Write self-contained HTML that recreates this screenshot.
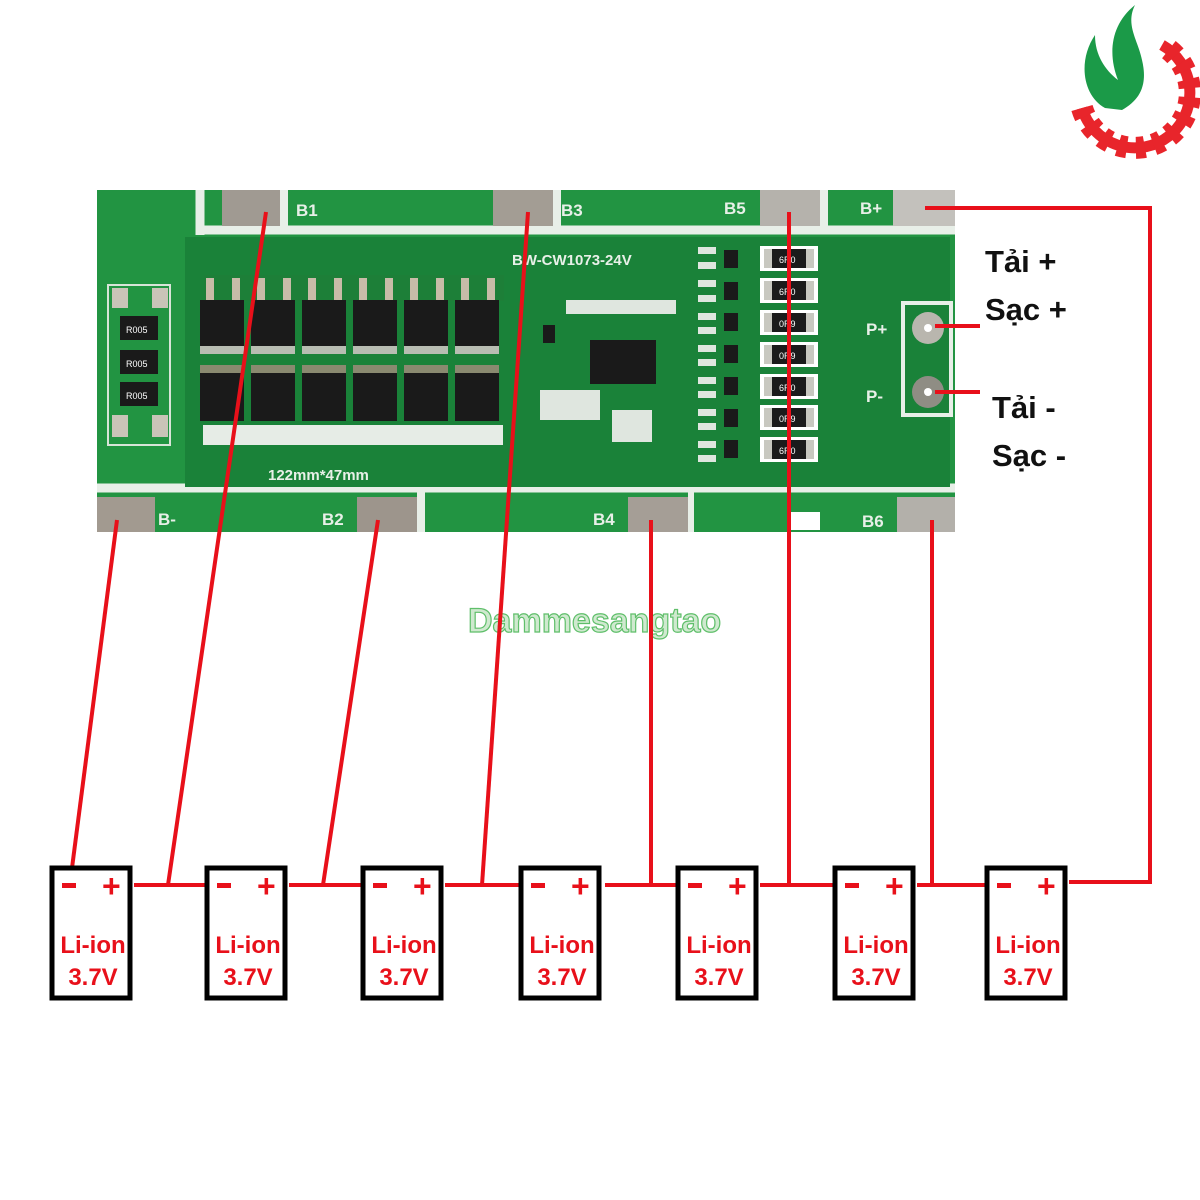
<!DOCTYPE html>
<html><head><meta charset="utf-8"><style>
html,body{margin:0;padding:0;background:#fff;width:1200px;height:1200px;overflow:hidden}
svg text{font-family:"Liberation Sans","DejaVu Sans",sans-serif}
</style></head><body>
<svg width="1200" height="1200" viewBox="0 0 1200 1200" xmlns="http://www.w3.org/2000/svg">
<defs>
<g id="mos"><rect x="0" y="0" width="44" height="46" fill="#1a1a1a"/><rect x="0" y="46" width="44" height="8" fill="#b8bdb2"/></g>
<g id="mosb"><rect x="0" y="0" width="44" height="8" fill="#8a8a70"/><rect x="0" y="8" width="44" height="48" fill="#1a1a1a"/></g>
<g id="res"><rect x="0" y="0" width="58" height="25" fill="#fff"/><rect x="4" y="3" width="50" height="19" fill="#c8c8c0"/><rect x="12" y="3" width="34" height="19" fill="#1b1b1b"/></g>
<g id="bat"><rect x="2" y="2" width="78" height="130" fill="#fff" stroke="#000" stroke-width="5"/></g>
</defs>
<!-- board -->
<rect x="97" y="190" width="858" height="342" fill="#229442"/>
<path d="M200 230 H955 M200 190 V235 M97 488 H955" stroke="#e8efe8" stroke-width="9" fill="none"/>
<rect x="185" y="237" width="765" height="250" fill="#1a8239"/>
<!-- top pads -->
<rect x="222" y="190" width="58" height="36" fill="#a09a92"/>
<rect x="493" y="190" width="60" height="36" fill="#a39d94"/>
<rect x="760" y="190" width="60" height="36" fill="#b5b2ac"/>
<rect x="893" y="190" width="62" height="36" fill="#c3c1bc"/>
<rect x="280" y="190" width="8" height="40" fill="#e8efe8"/>
<rect x="553" y="190" width="8" height="40" fill="#e8efe8"/>
<rect x="820" y="190" width="8" height="40" fill="#e8efe8"/>
<!-- bottom pads -->
<rect x="97" y="497" width="58" height="35" fill="#a29a90"/>
<rect x="357" y="497" width="60" height="35" fill="#9d958c"/>
<rect x="628" y="497" width="60" height="35" fill="#a59e96"/>
<rect x="897" y="497" width="58" height="35" fill="#b3b0aa"/>
<rect x="417" y="492" width="8" height="40" fill="#e8efe8"/>
<rect x="688" y="492" width="6" height="40" fill="#e8efe8"/>
<g font-weight="bold" font-size="17" fill="#e8f0e8">
<text x="296" y="216">B1</text>
<text x="561" y="216">B3</text>
<text x="724" y="214">B5</text>
<text x="860" y="214">B+</text>
<text x="158" y="525">B-</text>
<text x="322" y="525">B2</text>
<text x="593" y="525">B4</text>
<text x="862" y="527">B6</text>
<text x="512" y="265" font-size="15">BW-CW1073-24V</text>
<text x="268" y="480" font-size="15">122mm*47mm</text>
<text x="866" y="335">P+</text>
<text x="866" y="402">P-</text>
</g>
<!-- left shunts -->
<rect x="108" y="285" width="62" height="160" fill="none" stroke="#d8e4d8" stroke-width="2"/>
<g fill="#c9c4b8"><rect x="112" y="288" width="16" height="20"/><rect x="152" y="288" width="16" height="20"/><rect x="112" y="415" width="16" height="22"/><rect x="152" y="415" width="16" height="22"/></g>
<g fill="#1a1a1a"><rect x="120" y="316" width="38" height="24"/><rect x="120" y="350" width="38" height="24"/><rect x="120" y="382" width="38" height="24"/></g>
<g fill="#fff" font-size="9"><text x="126" y="333">R005</text><text x="126" y="367">R005</text><text x="126" y="399">R005</text></g>
<!-- mosfets -->
<rect x="204" y="275" width="300" height="26" fill="#1d7f38"/>
<use href="#mos" x="200" y="300"/><use href="#mos" x="251" y="300"/><use href="#mos" x="302" y="300"/><use href="#mos" x="353" y="300"/><use href="#mos" x="404" y="300"/><use href="#mos" x="455" y="300"/>
<use href="#mosb" x="200" y="365"/><use href="#mosb" x="251" y="365"/><use href="#mosb" x="302" y="365"/><use href="#mosb" x="353" y="365"/><use href="#mosb" x="404" y="365"/><use href="#mosb" x="455" y="365"/>
<g fill="#c8bca8"><rect x="206" y="278" width="8" height="22"/><rect x="232" y="278" width="8" height="22"/><rect x="257" y="278" width="8" height="22"/><rect x="283" y="278" width="8" height="22"/><rect x="308" y="278" width="8" height="22"/><rect x="334" y="278" width="8" height="22"/><rect x="359" y="278" width="8" height="22"/><rect x="385" y="278" width="8" height="22"/><rect x="410" y="278" width="8" height="22"/><rect x="436" y="278" width="8" height="22"/><rect x="461" y="278" width="8" height="22"/><rect x="487" y="278" width="8" height="22"/></g>
<g fill="#e6ece6"><rect x="203" y="425" width="300" height="20"/></g>
<!-- right area components -->
<use href="#res" x="760" y="246"/><use href="#res" x="760" y="278"/><use href="#res" x="760" y="310"/><use href="#res" x="760" y="342"/><use href="#res" x="760" y="374"/><use href="#res" x="760" y="405"/><use href="#res" x="760" y="437"/>
<g fill="#fff" font-size="9"><text x="779" y="263">6R0</text><text x="779" y="295">6R0</text><text x="779" y="327">0R9</text><text x="779" y="359">0R9</text><text x="779" y="391">6R0</text><text x="779" y="422">0R9</text><text x="779" y="454">6R0</text></g>
<g fill="#1a1a1a"><rect x="724" y="250" width="14" height="18"/><rect x="724" y="282" width="14" height="18"/><rect x="724" y="313" width="14" height="18"/><rect x="724" y="345" width="14" height="18"/><rect x="724" y="377" width="14" height="18"/><rect x="724" y="409" width="14" height="18"/><rect x="724" y="440" width="14" height="18"/></g>
<g fill="#dfe6df"><rect x="698" y="247" width="18" height="7"/><rect x="698" y="262" width="18" height="7"/><rect x="698" y="280" width="18" height="7"/><rect x="698" y="295" width="18" height="7"/><rect x="698" y="313" width="18" height="7"/><rect x="698" y="327" width="18" height="7"/><rect x="698" y="345" width="18" height="7"/><rect x="698" y="359" width="18" height="7"/><rect x="698" y="377" width="18" height="7"/><rect x="698" y="391" width="18" height="7"/><rect x="698" y="409" width="18" height="7"/><rect x="698" y="423" width="18" height="7"/><rect x="698" y="441" width="18" height="7"/><rect x="698" y="455" width="18" height="7"/></g>
<rect x="590" y="340" width="66" height="44" fill="#1a1a1a"/>
<g fill="#dfe6df"><rect x="566" y="300" width="110" height="14"/><rect x="540" y="390" width="60" height="30"/><rect x="612" y="410" width="40" height="32"/></g>
<rect x="543" y="325" width="12" height="18" fill="#1a1a1a"/>
<!-- P+ P- -->
<rect x="903" y="303" width="48" height="112" fill="none" stroke="#e8efe8" stroke-width="4"/>
<circle cx="928" cy="328" r="16" fill="#b9b6ae"/><circle cx="928" cy="392" r="16" fill="#8f8d84"/>
<circle cx="928" cy="328" r="4" fill="#fff"/><circle cx="928" cy="392" r="4" fill="#fff"/>
<rect x="790" y="512" width="30" height="18" fill="#fff"/>
<!-- watermark -->
<text x="468" y="632" font-size="34" font-weight="bold" fill="#cfe9cf" stroke="#5fbf6a" stroke-width="1.2">Dammesangtao</text>
<!-- logo -->
<path d="M1135 5 C1110 25 1108 55 1118 80 C1105 70 1095 55 1095 35 C1078 60 1082 95 1105 108 L1122 110 C1140 100 1148 85 1142 60 C1138 40 1125 25 1135 5 Z" fill="#1b9a48"/>
<path d="M1082 108 A55 55 0 1 0 1162 45" fill="none" stroke="#e8252b" stroke-width="11"/>
<path d="M1082 108 A55 55 0 1 0 1162 45" fill="none" stroke="#e8252b" stroke-width="22" stroke-dasharray="9 9"/>
<!-- red wires -->
<g stroke="#e8101a" stroke-width="4" fill="none">
<path d="M117 520 L72 868"/>
<path d="M266 212 L168 885"/>
<path d="M378 520 L323 885"/>
<path d="M528 212 L482 885"/>
<path d="M651 520 V885"/>
<path d="M789 212 V885"/>
<path d="M932 520 V885"/>
<path d="M925 208 H1150 V882 H1069"/>
<path d="M134 885 H207 M289 885 H363 M445 885 H521 M605 885 H678 M760 885 H835 M917 885 H987"/>
<path d="M935 326 H980 M935 392 H980"/>
</g>
<!-- labels -->
<g font-weight="bold" font-size="31" fill="#111">
<text x="985" y="272">Tải +</text>
<text x="985" y="320">Sạc +</text>
<text x="992" y="418">Tải -</text>
<text x="992" y="466">Sạc -</text>
</g>
<!-- batteries -->
<use href="#bat" x="50" y="866"/><use href="#bat" x="205" y="866"/><use href="#bat" x="361" y="866"/><use href="#bat" x="519" y="866"/><use href="#bat" x="676" y="866"/><use href="#bat" x="833" y="866"/><use href="#bat" x="985" y="866"/>
<g fill="#e8101a">
<rect x="62" y="883" width="14" height="5"/><rect x="217" y="883" width="14" height="5"/><rect x="373" y="883" width="14" height="5"/><rect x="531" y="883" width="14" height="5"/><rect x="688" y="883" width="14" height="5"/><rect x="845" y="883" width="14" height="5"/><rect x="997" y="883" width="14" height="5"/>
</g>
<g fill="#e8101a" font-weight="bold">
<g font-size="32"><text x="102" y="897">+</text>
<text x="257" y="897">+</text>
<text x="413" y="897">+</text>
<text x="571" y="897">+</text>
<text x="728" y="897">+</text>
<text x="885" y="897">+</text>
<text x="1037" y="897">+</text></g>
<g font-size="24" text-anchor="middle">
<text x="93" y="953">Li-ion</text><text x="93" y="985">3.7V</text>
<text x="248" y="953">Li-ion</text><text x="248" y="985">3.7V</text>
<text x="404" y="953">Li-ion</text><text x="404" y="985">3.7V</text>
<text x="562" y="953">Li-ion</text><text x="562" y="985">3.7V</text>
<text x="719" y="953">Li-ion</text><text x="719" y="985">3.7V</text>
<text x="876" y="953">Li-ion</text><text x="876" y="985">3.7V</text>
<text x="1028" y="953">Li-ion</text><text x="1028" y="985">3.7V</text>
</g></g>
</svg>
</body></html>
